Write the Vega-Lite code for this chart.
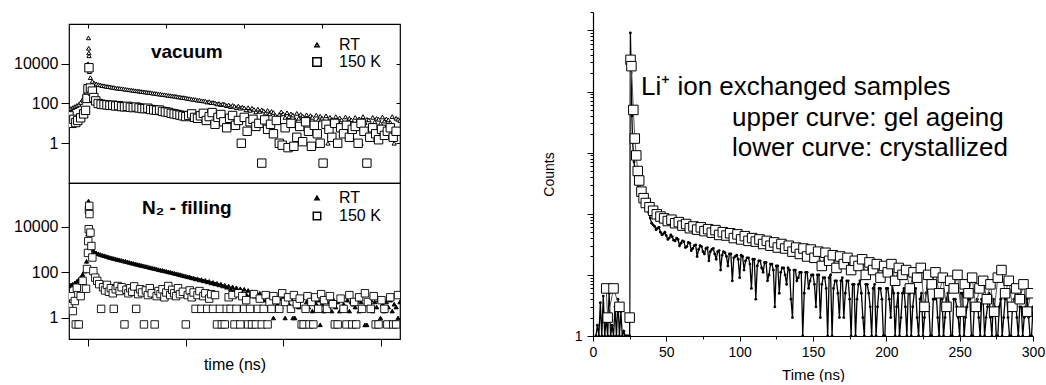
{
"$schema":"https://vega.github.io/schema/vega-lite/v6.json",
"padding":{"left":12,"top":11,"right":2,"bottom":0},
"config":{"font":"Liberation Sans","view":{"stroke":"black","strokeWidth":1.2},
"axis":{"grid":false,"domainColor":"black","tickColor":"black","labelColor":"black","titleColor":"black","titleFontWeight":"normal","labelFont":"Liberation Sans","titleFont":"Liberation Sans"},
"legend":{"labelFont":"Liberation Sans","labelColor":"black"}},
"datasets":{
"vac":[
{"t":0,"c":54,"s":"RT"},{"t":2,"c":56,"s":"RT"},{"t":4,"c":63,"s":"RT"},{"t":6,"c":70,"s":"RT"},{"t":8,"c":79,"s":"RT"},{"t":10,"c":90,"s":"RT"},{"t":12,"c":112,"s":"RT"},{"t":14,"c":160,"s":"RT"},{"t":16,"c":280,"s":"RT"},{"t":18,"c":800,"s":"RT"},{"t":19.5,"c":10000,"s":"RT"},{"t":20,"c":200000,"s":"RT"},{"t":20.2,"c":60000,"s":"RT"},{"t":20.4,"c":35000,"s":"RT"},{"t":20.6,"c":25000,"s":"RT"},{"t":21,"c":4000,"s":"RT"},
{"t":22,"c":2000,"s":"RT"},{"t":24,"c":1300,"s":"RT"},{"t":26,"c":1050,"s":"RT"},{"t":28,"c":960,"s":"RT"},{"t":30,"c":900,"s":"RT"},{"t":32,"c":860,"s":"RT"},{"t":34,"c":800,"s":"RT"},{"t":36,"c":780,"s":"RT"},{"t":38,"c":730,"s":"RT"},{"t":40,"c":710,"s":"RT"},{"t":42,"c":690,"s":"RT"},{"t":44,"c":650,"s":"RT"},{"t":46,"c":640,"s":"RT"},{"t":48,"c":600,"s":"RT"},{"t":50,"c":590,"s":"RT"},{"t":52,"c":570,"s":"RT"},{"t":54,"c":560,"s":"RT"},{"t":56,"c":540,"s":"RT"},{"t":58,"c":520,"s":"RT"},{"t":60,"c":500,"s":"RT"},{"t":62,"c":490,"s":"RT"},{"t":64,"c":470,"s":"RT"},{"t":66,"c":460,"s":"RT"},{"t":68,"c":440,"s":"RT"},{"t":70,"c":430,"s":"RT"},{"t":72,"c":420,"s":"RT"},{"t":74,"c":400,"s":"RT"},{"t":76,"c":390,"s":"RT"},{"t":78,"c":380,"s":"RT"},{"t":80,"c":370,"s":"RT"},{"t":82,"c":355,"s":"RT"},{"t":84,"c":350,"s":"RT"},{"t":86,"c":330,"s":"RT"},{"t":88,"c":325,"s":"RT"},{"t":90,"c":316,"s":"RT"},{"t":92,"c":300,"s":"RT"},{"t":94,"c":295,"s":"RT"},{"t":96,"c":280,"s":"RT"},{"t":98,"c":275,"s":"RT"},{"t":100,"c":270,"s":"RT"},{"t":102,"c":255,"s":"RT"},{"t":104,"c":250,"s":"RT"},{"t":106,"c":240,"s":"RT"},{"t":108,"c":235,"s":"RT"},{"t":110,"c":230,"s":"RT"},{"t":112,"c":215,"s":"RT"},{"t":114,"c":212,"s":"RT"},{"t":116,"c":200,"s":"RT"},{"t":118,"c":198,"s":"RT"},{"t":120,"c":190,"s":"RT"},{"t":122,"c":180,"s":"RT"},{"t":124,"c":175,"s":"RT"},{"t":126,"c":165,"s":"RT"},{"t":128,"c":162,"s":"RT"},{"t":130,"c":158,"s":"RT"},{"t":132,"c":145,"s":"RT"},{"t":134,"c":148,"s":"RT"},{"t":136,"c":138,"s":"RT"},{"t":138,"c":135,"s":"RT"},{"t":140,"c":132,"s":"RT"},{"t":142,"c":118,"s":"RT"},{"t":144,"c":125,"s":"RT"},{"t":146,"c":110,"s":"RT"},{"t":148,"c":112,"s":"RT"},{"t":150,"c":107,"s":"RT"},{"t":152,"c":95,"s":"RT"},{"t":154,"c":100,"s":"RT"},{"t":156,"c":88,"s":"RT"},{"t":158,"c":96,"s":"RT"},{"t":160,"c":89,"s":"RT"},{"t":162,"c":78,"s":"RT"},{"t":164,"c":85,"s":"RT"},{"t":166,"c":70,"s":"RT"},{"t":168,"c":80,"s":"RT"},{"t":170,"c":72,"s":"RT"},{"t":172,"c":62,"s":"RT"},{"t":174,"c":75,"s":"RT"},{"t":176,"c":58,"s":"RT"},{"t":178,"c":66,"s":"RT"},{"t":180,"c":60,"s":"RT"},{"t":182,"c":48,"s":"RT"},{"t":184,"c":62,"s":"RT"},{"t":186,"c":45,"s":"RT"},{"t":188,"c":58,"s":"RT"},{"t":190,"c":50,"s":"RT"},{"t":192,"c":38,"s":"RT"},{"t":194,"c":52,"s":"RT"},{"t":196,"c":40,"s":"RT"},{"t":198,"c":48,"s":"RT"},{"t":200,"c":42,"s":"RT"},{"t":202,"c":33,"s":"RT"},{"t":204,"c":45,"s":"RT"},{"t":206,"c":30,"s":"RT"},{"t":208,"c":40,"s":"RT"},{"t":210,"c":35,"s":"RT"},{"t":212,"c":25,"s":"RT"},{"t":214,"c":1,"s":"RT"},{"t":216,"c":28,"s":"RT"},{"t":218,"c":38,"s":"RT"},{"t":220,"c":30,"s":"RT"},{"t":222,"c":20,"s":"RT"},{"t":224,"c":34,"s":"RT"},{"t":226,"c":22,"s":"RT"},{"t":228,"c":30,"s":"RT"},{"t":230,"c":26,"s":"RT"},{"t":232,"c":16,"s":"RT"},{"t":234,"c":32,"s":"RT"},{"t":236,"c":18,"s":"RT"},{"t":238,"c":28,"s":"RT"},{"t":240,"c":23,"s":"RT"},{"t":242,"c":14,"s":"RT"},{"t":244,"c":27,"s":"RT"},{"t":246,"c":17,"s":"RT"},{"t":248,"c":25,"s":"RT"},{"t":250,"c":20,"s":"RT"},{"t":252,"c":12,"s":"RT"},{"t":254,"c":26,"s":"RT"},{"t":256,"c":15,"s":"RT"},{"t":258,"c":23,"s":"RT"},{"t":260,"c":18,"s":"RT"},{"t":262,"c":11,"s":"RT"},{"t":264,"c":24,"s":"RT"},{"t":266,"c":1,"s":"RT"},{"t":268,"c":20,"s":"RT"},{"t":270,"c":16,"s":"RT"},{"t":272,"c":10,"s":"RT"},{"t":274,"c":22,"s":"RT"},{"t":276,"c":13,"s":"RT"},{"t":278,"c":19,"s":"RT"},{"t":280,"c":15,"s":"RT"},{"t":282,"c":9,"s":"RT"},{"t":284,"c":21,"s":"RT"},{"t":286,"c":12,"s":"RT"},{"t":288,"c":18,"s":"RT"},{"t":290,"c":15,"s":"RT"},{"t":292,"c":10,"s":"RT"},{"t":294,"c":20,"s":"RT"},{"t":296,"c":12,"s":"RT"},{"t":298,"c":17,"s":"RT"},{"t":300,"c":1,"s":"RT"},{"t":302,"c":22,"s":"RT"},{"t":304,"c":11,"s":"RT"},{"t":306,"c":16,"s":"RT"},{"t":308,"c":15,"s":"RT"},{"t":310,"c":9,"s":"RT"},{"t":312,"c":20,"s":"RT"},{"t":314,"c":12,"s":"RT"},{"t":316,"c":18,"s":"RT"},{"t":318,"c":16,"s":"RT"},{"t":320,"c":10,"s":"RT"},{"t":322,"c":21,"s":"RT"},{"t":324,"c":13,"s":"RT"},{"t":326,"c":17,"s":"RT"},{"t":328,"c":15,"s":"RT"},{"t":330,"c":11,"s":"RT"},{"t":332,"c":22,"s":"RT"},{"t":334,"c":1,"s":"RT"},{"t":336,"c":18,"s":"RT"},{"t":338,"c":16,"s":"RT"},{"t":340,"c":14,"s":"RT"},
{"t":0,"c":24,"s":"150 K"},{"t":1,"c":13,"s":"150 K"},{"t":3,"c":10,"s":"150 K"},{"t":5,"c":16,"s":"150 K"},{"t":7,"c":11,"s":"150 K"},{"t":9,"c":14,"s":"150 K"},{"t":12,"c":19,"s":"150 K"},{"t":15,"c":30,"s":"150 K"},{"t":17,"c":45,"s":"150 K"},{"t":18.5,"c":180,"s":"150 K"},{"t":19.5,"c":550,"s":"150 K"},{"t":20.5,"c":6300,"s":"150 K"},{"t":22,"c":600,"s":"150 K"},{"t":24,"c":420,"s":"150 K"},{"t":25.5,"c":200,"s":"150 K"},{"t":27.5,"c":135,"s":"150 K"},{"t":30,"c":100,"s":"150 K"},{"t":33,"c":92,"s":"150 K"},{"t":36,"c":88,"s":"150 K"},{"t":39,"c":85,"s":"150 K"},{"t":42,"c":80,"s":"150 K"},{"t":45,"c":82,"s":"150 K"},{"t":48,"c":75,"s":"150 K"},{"t":51,"c":78,"s":"150 K"},{"t":54,"c":70,"s":"150 K"},{"t":57,"c":68,"s":"150 K"},{"t":60,"c":72,"s":"150 K"},{"t":63,"c":65,"s":"150 K"},{"t":66,"c":62,"s":"150 K"},{"t":69,"c":66,"s":"150 K"},{"t":72,"c":60,"s":"150 K"},{"t":75,"c":56,"s":"150 K"},{"t":78,"c":55,"s":"150 K"},{"t":81,"c":58,"s":"150 K"},{"t":84,"c":50,"s":"150 K"},{"t":87,"c":48,"s":"150 K"},{"t":90,"c":45,"s":"150 K"},{"t":93,"c":47,"s":"150 K"},{"t":96,"c":40,"s":"150 K"},{"t":99,"c":38,"s":"150 K"},{"t":102,"c":36,"s":"150 K"},{"t":105,"c":32,"s":"150 K"},{"t":108,"c":30,"s":"150 K"},{"t":111,"c":28,"s":"150 K"},{"t":114,"c":26,"s":"150 K"},{"t":117,"c":24,"s":"150 K"},{"t":120,"c":22,"s":"150 K"},{"t":123,"c":25,"s":"150 K"},{"t":126,"c":30,"s":"150 K"},{"t":129,"c":20,"s":"150 K"},{"t":132,"c":18,"s":"150 K"},{"t":135,"c":24,"s":"150 K"},{"t":138,"c":32,"s":"150 K"},{"t":141,"c":14,"s":"150 K"},{"t":144,"c":22,"s":"150 K"},{"t":147,"c":35,"s":"150 K"},{"t":150,"c":9,"s":"150 K"},{"t":153,"c":20,"s":"150 K"},{"t":156,"c":28,"s":"150 K"},{"t":159,"c":12,"s":"150 K"},{"t":162,"c":6,"s":"150 K"},{"t":165,"c":18,"s":"150 K"},{"t":168,"c":25,"s":"150 K"},{"t":171,"c":8,"s":"150 K"},{"t":174,"c":14,"s":"150 K"},{"t":177,"c":1,"s":"150 K"},{"t":180,"c":20,"s":"150 K"},{"t":183,"c":4,"s":"150 K"},{"t":186,"c":12,"s":"150 K"},{"t":189,"c":16,"s":"150 K"},{"t":192,"c":7,"s":"150 K"},{"t":195,"c":10,"s":"150 K"},{"t":198,"c":0.1,"s":"150 K"},{"t":201,"c":15,"s":"150 K"},{"t":204,"c":5,"s":"150 K"},{"t":207,"c":9,"s":"150 K"},{"t":210,"c":3,"s":"150 K"},{"t":213,"c":14,"s":"150 K"},{"t":216,"c":1,"s":"150 K"},{"t":219,"c":0.8,"s":"150 K"},{"t":222,"c":6,"s":"150 K"},{"t":225,"c":0.6,"s":"150 K"},{"t":228,"c":10,"s":"150 K"},{"t":231,"c":0.7,"s":"150 K"},{"t":234,"c":2,"s":"150 K"},{"t":237,"c":7,"s":"150 K"},{"t":240,"c":1.2,"s":"150 K"},{"t":243,"c":12,"s":"150 K"},{"t":246,"c":4,"s":"150 K"},{"t":249,"c":0.7,"s":"150 K"},{"t":252,"c":8,"s":"150 K"},{"t":255,"c":3,"s":"150 K"},{"t":258,"c":1,"s":"150 K"},{"t":261,"c":0.1,"s":"150 K"},{"t":264,"c":9,"s":"150 K"},{"t":267,"c":5,"s":"150 K"},{"t":270,"c":2,"s":"150 K"},{"t":273,"c":10,"s":"150 K"},{"t":276,"c":1,"s":"150 K"},{"t":279,"c":6,"s":"150 K"},{"t":282,"c":3,"s":"150 K"},{"t":285,"c":8,"s":"150 K"},{"t":288,"c":2,"s":"150 K"},{"t":291,"c":5,"s":"150 K"},{"t":294,"c":7,"s":"150 K"},{"t":297,"c":1,"s":"150 K"},{"t":300,"c":10,"s":"150 K"},{"t":303,"c":4,"s":"150 K"},{"t":306,"c":0.1,"s":"150 K"},{"t":309,"c":2,"s":"150 K"},{"t":312,"c":6,"s":"150 K"},{"t":315,"c":3,"s":"150 K"},{"t":318,"c":1.5,"s":"150 K"},{"t":321,"c":5,"s":"150 K"},{"t":324,"c":2.5,"s":"150 K"},{"t":327,"c":4,"s":"150 K"},{"t":330,"c":6,"s":"150 K"},{"t":333,"c":2,"s":"150 K"},{"t":336,"c":4,"s":"150 K"}
],
"n2":[
{"t":0,"c":25,"s":"RT"},{"t":2,"c":28,"s":"RT"},{"t":4,"c":30,"s":"RT"},{"t":6,"c":34,"s":"RT"},{"t":8,"c":40,"s":"RT"},{"t":10,"c":48,"s":"RT"},{"t":12,"c":58,"s":"RT"},{"t":14,"c":80,"s":"RT"},{"t":16,"c":112,"s":"RT"},{"t":18,"c":300,"s":"RT"},{"t":19.3,"c":4700,"s":"RT"},{"t":19.7,"c":9000,"s":"RT"},{"t":20,"c":130000,"s":"RT"},{"t":20.5,"c":9000,"s":"RT"},{"t":21,"c":2500,"s":"RT"},
{"t":22,"c":1300,"s":"RT"},{"t":24,"c":950,"s":"RT"},{"t":26,"c":780,"s":"RT"},{"t":28,"c":700,"s":"RT"},{"t":30,"c":640,"s":"RT"},{"t":32,"c":600,"s":"RT"},{"t":34,"c":560,"s":"RT"},{"t":36,"c":530,"s":"RT"},{"t":38,"c":500,"s":"RT"},{"t":40,"c":470,"s":"RT"},{"t":42,"c":440,"s":"RT"},{"t":44,"c":420,"s":"RT"},{"t":46,"c":400,"s":"RT"},{"t":48,"c":380,"s":"RT"},{"t":50,"c":360,"s":"RT"},{"t":52,"c":345,"s":"RT"},{"t":54,"c":330,"s":"RT"},{"t":56,"c":310,"s":"RT"},{"t":58,"c":300,"s":"RT"},{"t":60,"c":285,"s":"RT"},{"t":62,"c":270,"s":"RT"},{"t":64,"c":255,"s":"RT"},{"t":66,"c":245,"s":"RT"},{"t":68,"c":230,"s":"RT"},{"t":70,"c":222,"s":"RT"},{"t":72,"c":210,"s":"RT"},{"t":74,"c":200,"s":"RT"},{"t":76,"c":192,"s":"RT"},{"t":78,"c":182,"s":"RT"},{"t":80,"c":175,"s":"RT"},{"t":82,"c":165,"s":"RT"},{"t":84,"c":158,"s":"RT"},{"t":86,"c":150,"s":"RT"},{"t":88,"c":145,"s":"RT"},{"t":90,"c":138,"s":"RT"},{"t":92,"c":130,"s":"RT"},{"t":94,"c":125,"s":"RT"},{"t":96,"c":120,"s":"RT"},{"t":98,"c":115,"s":"RT"},{"t":100,"c":110,"s":"RT"},{"t":102,"c":104,"s":"RT"},{"t":104,"c":100,"s":"RT"},{"t":106,"c":95,"s":"RT"},{"t":108,"c":90,"s":"RT"},{"t":110,"c":86,"s":"RT"},{"t":112,"c":82,"s":"RT"},{"t":114,"c":78,"s":"RT"},{"t":116,"c":74,"s":"RT"},{"t":118,"c":70,"s":"RT"},{"t":120,"c":67,"s":"RT"},{"t":122,"c":63,"s":"RT"},{"t":124,"c":62,"s":"RT"},{"t":126,"c":57,"s":"RT"},{"t":128,"c":56,"s":"RT"},{"t":130,"c":51,"s":"RT"},{"t":132,"c":52,"s":"RT"},{"t":134,"c":46,"s":"RT"},{"t":136,"c":48,"s":"RT"},{"t":138,"c":42,"s":"RT"},{"t":140,"c":44,"s":"RT"},{"t":142,"c":38,"s":"RT"},{"t":144,"c":40,"s":"RT"},{"t":146,"c":34,"s":"RT"},{"t":148,"c":36,"s":"RT"},{"t":150,"c":31,"s":"RT"},{"t":152,"c":33,"s":"RT"},{"t":154,"c":28,"s":"RT"},{"t":156,"c":30,"s":"RT"},{"t":158,"c":25,"s":"RT"},{"t":160,"c":27,"s":"RT"},{"t":162,"c":22,"s":"RT"},{"t":164,"c":25,"s":"RT"},{"t":166,"c":19,"s":"RT"},{"t":168,"c":23,"s":"RT"},{"t":170,"c":17,"s":"RT"},{"t":172,"c":21,"s":"RT"},{"t":174,"c":15,"s":"RT"},{"t":176,"c":19,"s":"RT"},{"t":178,"c":13,"s":"RT"},{"t":180,"c":18,"s":"RT"},{"t":182,"c":11,"s":"RT"},{"t":184,"c":16,"s":"RT"},{"t":186,"c":10,"s":"RT"},{"t":188,"c":14,"s":"RT"},{"t":190,"c":9,"s":"RT"},{"t":192,"c":13,"s":"RT"},{"t":194,"c":8,"s":"RT"},{"t":196,"c":12,"s":"RT"},{"t":198,"c":7,"s":"RT"},{"t":200,"c":11,"s":"RT"},{"t":202,"c":6,"s":"RT"},{"t":204,"c":10,"s":"RT"},{"t":206,"c":5,"s":"RT"},{"t":208,"c":9,"s":"RT"},{"t":210,"c":1,"s":"RT"},{"t":212,"c":8,"s":"RT"},{"t":214,"c":4,"s":"RT"},{"t":216,"c":7,"s":"RT"},{"t":218,"c":3,"s":"RT"},{"t":220,"c":8,"s":"RT"},{"t":222,"c":1,"s":"RT"},{"t":224,"c":6,"s":"RT"},{"t":226,"c":4,"s":"RT"},{"t":228,"c":7,"s":"RT"},{"t":230,"c":1,"s":"RT"},{"t":232,"c":1,"s":"RT"},{"t":234,"c":5,"s":"RT"},{"t":236,"c":3,"s":"RT"},{"t":238,"c":6,"s":"RT"},{"t":240,"c":0.5,"s":"RT"},{"t":242,"c":0.5,"s":"RT"},{"t":244,"c":5,"s":"RT"},{"t":246,"c":3,"s":"RT"},{"t":248,"c":7,"s":"RT"},{"t":250,"c":2,"s":"RT"},{"t":252,"c":5,"s":"RT"},{"t":254,"c":4,"s":"RT"},{"t":256,"c":6,"s":"RT"},{"t":258,"c":0.5,"s":"RT"},{"t":260,"c":4,"s":"RT"},{"t":262,"c":2,"s":"RT"},{"t":264,"c":6,"s":"RT"},{"t":266,"c":3,"s":"RT"},{"t":268,"c":5,"s":"RT"},{"t":270,"c":2,"s":"RT"},{"t":272,"c":6,"s":"RT"},{"t":274,"c":3,"s":"RT"},{"t":276,"c":5,"s":"RT"},{"t":278,"c":2,"s":"RT"},{"t":280,"c":7,"s":"RT"},{"t":282,"c":4,"s":"RT"},{"t":284,"c":3,"s":"RT"},{"t":286,"c":6,"s":"RT"},{"t":288,"c":2,"s":"RT"},{"t":290,"c":5,"s":"RT"},{"t":292,"c":4,"s":"RT"},{"t":294,"c":3,"s":"RT"},{"t":296,"c":6,"s":"RT"},{"t":298,"c":2,"s":"RT"},{"t":300,"c":5,"s":"RT"},{"t":302,"c":3,"s":"RT"},{"t":304,"c":0.5,"s":"RT"},{"t":306,"c":0.5,"s":"RT"},{"t":308,"c":4,"s":"RT"},{"t":310,"c":6,"s":"RT"},{"t":312,"c":2,"s":"RT"},{"t":314,"c":5,"s":"RT"},{"t":316,"c":3,"s":"RT"},{"t":318,"c":6,"s":"RT"},{"t":320,"c":1,"s":"RT"},{"t":322,"c":4,"s":"RT"},{"t":324,"c":2,"s":"RT"},{"t":326,"c":5,"s":"RT"},{"t":328,"c":3,"s":"RT"},{"t":330,"c":6,"s":"RT"},{"t":332,"c":2,"s":"RT"},{"t":334,"c":4,"s":"RT"},{"t":336,"c":3,"s":"RT"},{"t":338,"c":1,"s":"RT"},{"t":340,"c":5,"s":"RT"},
{"t":0,"c":3.3,"s":"150 K"},{"t":2,"c":9,"s":"150 K"},{"t":4,"c":2,"s":"150 K"},{"t":6,"c":5.5,"s":"150 K"},{"t":7,"c":0.52,"s":"150 K"},{"t":8,"c":21,"s":"150 K"},{"t":10,"c":0.52,"s":"150 K"},{"t":12,"c":9,"s":"150 K"},{"t":14,"c":42,"s":"150 K"},{"t":17.5,"c":19,"s":"150 K"},{"t":18.5,"c":138,"s":"150 K"},{"t":19.5,"c":700,"s":"150 K"},{"t":19.8,"c":2300,"s":"150 K"},{"t":20.3,"c":7600,"s":"150 K"},{"t":20.5,"c":52000,"s":"150 K"},{"t":20.8,"c":80000,"s":"150 K"},{"t":21,"c":35000,"s":"150 K"},{"t":22,"c":5400,"s":"150 K"},{"t":23,"c":1400,"s":"150 K"},{"t":24,"c":440,"s":"150 K"},{"t":25,"c":112,"s":"150 K"},{"t":27,"c":58,"s":"150 K"},{"t":29,"c":42,"s":"150 K"},{"t":31,"c":30,"s":"150 K"},{"t":33,"c":2.5,"s":"150 K"},{"t":35,"c":22,"s":"150 K"},{"t":37,"c":16,"s":"150 K"},{"t":39,"c":28,"s":"150 K"},{"t":41,"c":14,"s":"150 K"},{"t":43,"c":20,"s":"150 K"},{"t":45,"c":12,"s":"150 K"},{"t":46,"c":2.5,"s":"150 K"},{"t":48,"c":18,"s":"150 K"},{"t":50,"c":25,"s":"150 K"},{"t":52,"c":15,"s":"150 K"},{"t":54,"c":22,"s":"150 K"},{"t":57,"c":0.52,"s":"150 K"},{"t":59,"c":17,"s":"150 K"},{"t":61,"c":12,"s":"150 K"},{"t":63,"c":20,"s":"150 K"},{"t":65,"c":14,"s":"150 K"},{"t":67,"c":24,"s":"150 K"},{"t":69,"c":2.5,"s":"150 K"},{"t":71,"c":11,"s":"150 K"},{"t":73,"c":18,"s":"150 K"},{"t":75,"c":13,"s":"150 K"},{"t":77,"c":0.52,"s":"150 K"},{"t":79,"c":16,"s":"150 K"},{"t":81,"c":10,"s":"150 K"},{"t":83,"c":20,"s":"150 K"},{"t":85,"c":12,"s":"150 K"},{"t":88,"c":0.52,"s":"150 K"},{"t":90,"c":9,"s":"150 K"},{"t":92,"c":15,"s":"150 K"},{"t":94,"c":11,"s":"150 K"},{"t":96,"c":18,"s":"150 K"},{"t":98,"c":8,"s":"150 K"},{"t":100,"c":13,"s":"150 K"},{"t":102,"c":25,"s":"150 K"},{"t":104,"c":10,"s":"150 K"},{"t":106,"c":17,"s":"150 K"},{"t":108,"c":12,"s":"150 K"},{"t":110,"c":9,"s":"150 K"},{"t":112,"c":20,"s":"150 K"},{"t":114,"c":11,"s":"150 K"},{"t":117,"c":14,"s":"150 K"},{"t":120,"c":0.52,"s":"150 K"},{"t":122,"c":10,"s":"150 K"},{"t":124,"c":16,"s":"150 K"},{"t":126,"c":8,"s":"150 K"},{"t":128,"c":13,"s":"150 K"},{"t":130,"c":2.5,"s":"150 K"},{"t":132,"c":10,"s":"150 K"},{"t":134,"c":15,"s":"150 K"},{"t":136,"c":2.5,"s":"150 K"},{"t":138,"c":9,"s":"150 K"},{"t":140,"c":12,"s":"150 K"},{"t":142,"c":2.5,"s":"150 K"},{"t":144,"c":7,"s":"150 K"},{"t":146,"c":11,"s":"150 K"},{"t":148,"c":2.5,"s":"150 K"},{"t":150,"c":10,"s":"150 K"},{"t":152,"c":0.52,"s":"150 K"},{"t":155,"c":2.5,"s":"150 K"},{"t":157,"c":0.52,"s":"150 K"},{"t":160,"c":0.52,"s":"150 K"},{"t":162,"c":2.5,"s":"150 K"},{"t":164,"c":8,"s":"150 K"},{"t":166,"c":2.5,"s":"150 K"},{"t":168,"c":10,"s":"150 K"},{"t":170,"c":0.52,"s":"150 K"},{"t":172,"c":2.5,"s":"150 K"},{"t":174,"c":12,"s":"150 K"},{"t":176,"c":0.52,"s":"150 K"},{"t":178,"c":9,"s":"150 K"},{"t":180,"c":2.5,"s":"150 K"},{"t":182,"c":6,"s":"150 K"},{"t":184,"c":0.52,"s":"150 K"},{"t":186,"c":2.5,"s":"150 K"},{"t":188,"c":0.52,"s":"150 K"},{"t":190,"c":11,"s":"150 K"},{"t":192,"c":0.52,"s":"150 K"},{"t":194,"c":2.5,"s":"150 K"},{"t":196,"c":7,"s":"150 K"},{"t":198,"c":0.52,"s":"150 K"},{"t":200,"c":2.5,"s":"150 K"},{"t":202,"c":10,"s":"150 K"},{"t":204,"c":0.52,"s":"150 K"},{"t":206,"c":5,"s":"150 K"},{"t":208,"c":2.5,"s":"150 K"},{"t":210,"c":9,"s":"150 K"},{"t":213,"c":6,"s":"150 K"},{"t":216,"c":2.5,"s":"150 K"},{"t":219,"c":12,"s":"150 K"},{"t":222,"c":5,"s":"150 K"},{"t":225,"c":8,"s":"150 K"},{"t":228,"c":2.5,"s":"150 K"},{"t":231,"c":10,"s":"150 K"},{"t":234,"c":4,"s":"150 K"},{"t":237,"c":7,"s":"150 K"},{"t":239,"c":0.52,"s":"150 K"},{"t":241,"c":0.52,"s":"150 K"},{"t":243,"c":2.5,"s":"150 K"},{"t":245,"c":9,"s":"150 K"},{"t":247,"c":0.52,"s":"150 K"},{"t":249,"c":5,"s":"150 K"},{"t":251,"c":0.52,"s":"150 K"},{"t":253,"c":8,"s":"150 K"},{"t":256,"c":2.5,"s":"150 K"},{"t":259,"c":11,"s":"150 K"},{"t":262,"c":6,"s":"150 K"},{"t":265,"c":2.5,"s":"150 K"},{"t":268,"c":9,"s":"150 K"},{"t":271,"c":4,"s":"150 K"},{"t":273,"c":0.52,"s":"150 K"},{"t":276,"c":0.52,"s":"150 K"},{"t":279,"c":7,"s":"150 K"},{"t":282,"c":2.5,"s":"150 K"},{"t":285,"c":0.52,"s":"150 K"},{"t":288,"c":10,"s":"150 K"},{"t":291,"c":0.52,"s":"150 K"},{"t":293,"c":5,"s":"150 K"},{"t":295,"c":0.52,"s":"150 K"},{"t":298,"c":8,"s":"150 K"},{"t":301,"c":2.5,"s":"150 K"},{"t":304,"c":12,"s":"150 K"},{"t":307,"c":5,"s":"150 K"},{"t":310,"c":2.5,"s":"150 K"},{"t":313,"c":9,"s":"150 K"},{"t":315,"c":0.52,"s":"150 K"},{"t":318,"c":0.52,"s":"150 K"},{"t":321,"c":6,"s":"150 K"},{"t":324,"c":2.5,"s":"150 K"},{"t":327,"c":0.52,"s":"150 K"},{"t":330,"c":8,"s":"150 K"},{"t":333,"c":0.52,"s":"150 K"},{"t":336,"c":0.52,"s":"150 K"},{"t":338,"c":10,"s":"150 K"}
],
"gel":[
{"t":9,"c":6},{"t":10,"c":2},{"t":14,"c":6},{"t":18,"c":3},{"t":25,"c":2},{"t":25.6,"c":33000},{"t":26.2,"c":26000},{"t":27.5,"c":5000},{"t":28.5,"c":1700},{"t":29.5,"c":900},{"t":30.5,"c":500},{"t":31.5,"c":350},{"t":33,"c":230},{"t":34.5,"c":180},{"t":36,"c":150},{"t":38.5,"c":128},{"t":41,"c":112},{"t":43.5,"c":98},{"t":46,"c":90},{"t":48.5,"c":84},{"t":51,"c":76},{"t":53.5,"c":80},{"t":56,"c":70},{"t":58.5,"c":73},{"t":61,"c":64},{"t":63.5,"c":68},{"t":66,"c":58},{"t":68.5,"c":62},{"t":71,"c":55},{"t":73.5,"c":60},{"t":76,"c":52},{"t":78.5,"c":56},{"t":81,"c":49},{"t":83.5,"c":54},{"t":86,"c":45},{"t":88.5,"c":50},{"t":91,"c":44},{"t":93.5,"c":48},{"t":96,"c":40},{"t":98.5,"c":46},{"t":101,"c":38},{"t":103.5,"c":43},{"t":106,"c":36},{"t":108.5,"c":40},{"t":111,"c":35},{"t":113.5,"c":38},{"t":116,"c":32},{"t":118.5,"c":36},{"t":121,"c":30},{"t":123.5,"c":34},{"t":126,"c":28},{"t":128.5,"c":32},{"t":131,"c":27},{"t":133.5,"c":30},{"t":136,"c":24},{"t":138.5,"c":28},{"t":141,"c":22},{"t":143.5,"c":27},{"t":146,"c":20},{"t":148.5,"c":26},{"t":151,"c":19},{"t":153.5,"c":24},{"t":156,"c":14},{"t":158.5,"c":23},{"t":161,"c":17},{"t":163.5,"c":21},{"t":166,"c":13},{"t":168.5,"c":20},{"t":171,"c":15},{"t":173.5,"c":19},{"t":176,"c":12},{"t":178.5,"c":17},{"t":181,"c":14},{"t":183.5,"c":18},{"t":186,"c":10},{"t":188.5,"c":16},{"t":191,"c":12},{"t":193.5,"c":15},{"t":196,"c":9},{"t":198.5,"c":14},{"t":201,"c":11},{"t":203.5,"c":15},{"t":206,"c":8},{"t":208.5,"c":13},{"t":211,"c":10},{"t":213.5,"c":12},{"t":216,"c":6},{"t":218.5,"c":11},{"t":221,"c":9},{"t":223.5,"c":13},{"t":226,"c":3},{"t":228.5,"c":10},{"t":231,"c":7},{"t":233.5,"c":11},{"t":236,"c":5},{"t":238.5,"c":9},{"t":241,"c":3},{"t":243.5,"c":8},{"t":246,"c":6},{"t":248.5,"c":10},{"t":251,"c":2.5},{"t":253.5,"c":7},{"t":256,"c":5},{"t":258.5,"c":9},{"t":261,"c":3},{"t":263.5,"c":6},{"t":266,"c":8},{"t":268.5,"c":4},{"t":271,"c":7},{"t":273.5,"c":2.5},{"t":276,"c":9},{"t":278.5,"c":12},{"t":281,"c":5},{"t":283.5,"c":8},{"t":286,"c":3},{"t":288.5,"c":6},{"t":291,"c":4},{"t":293.5,"c":7},{"t":296,"c":2.5},{"t":298.5,"c":5}
],
"cry":[
{"t":2,"c":1},{"t":3,"c":1.5},{"t":4,"c":1},{"t":5,"c":3.5},{"t":6,"c":1},{"t":7,"c":4.5},{"t":8,"c":1},{"t":9,"c":2},{"t":10,"c":1},{"t":11,"c":5},{"t":12,"c":1},{"t":13,"c":1.5},{"t":14,"c":1},{"t":15,"c":3},{"t":16,"c":1},{"t":17,"c":4},{"t":18,"c":1},{"t":19,"c":2.5},{"t":20,"c":1},{"t":21,"c":1.2},{"t":22,"c":1},{"t":23,"c":1},{"t":24,"c":1},{"t":25,"c":1},{"t":25.5,"c":91000},{"t":26,"c":20000},{"t":26.5,"c":4000},{"t":27,"c":1500},{"t":28,"c":700},{"t":29,"c":450},{"t":30,"c":330},{"t":31,"c":270},{"t":32,"c":230},{"t":33,"c":200},{"t":34,"c":175},{"t":35,"c":155},
{"t":36,"c":140},{"t":38,"c":105},{"t":40,"c":70},{"t":42,"c":62},{"t":44,"c":58},{"t":46,"c":50},{"t":48,"c":47},{"t":50,"c":44},{"t":52,"c":40},{"t":54,"c":42},{"t":56,"c":36},{"t":58,"c":38},{"t":60,"c":33},{"t":62,"c":35},{"t":64,"c":29},{"t":66,"c":33},{"t":68,"c":27},{"t":70,"c":31},{"t":72,"c":26},{"t":74,"c":29},{"t":76,"c":22},{"t":78,"c":28},{"t":80,"c":24},{"t":82,"c":27},{"t":84,"c":18},{"t":86,"c":25},{"t":88,"c":21},{"t":90,"c":23},{"t":92,"c":14},{"t":94,"c":22},{"t":96,"c":19},{"t":98,"c":21},{"t":100,"c":9},{"t":102,"c":20},{"t":104,"c":17},{"t":106,"c":19},{"t":108,"c":6},{"t":110,"c":18},{"t":112,"c":14},{"t":114,"c":17},{"t":116,"c":11},{"t":118,"c":16},{"t":120,"c":10},{"t":122,"c":15},{"t":124,"c":3},{"t":126,"c":14},{"t":128,"c":11},{"t":130,"c":13},{"t":132,"c":7},{"t":134,"c":12},{"t":136,"c":2},{"t":138,"c":12},{"t":140,"c":9},{"t":142,"c":11},{"t":144,"c":5},{"t":146,"c":11},{"t":148,"c":8},{"t":150,"c":10},{"t":152,"c":3},{"t":154,"c":10},{"t":156,"c":7},{"t":158,"c":9},{"t":160,"c":1},{"t":162,"c":10},{"t":164,"c":6},{"t":166,"c":8},{"t":168,"c":2},{"t":170,"c":9},{"t":172,"c":5},{"t":174,"c":8},{"t":176,"c":1},{"t":178,"c":7},{"t":180,"c":4},{"t":182,"c":8},{"t":184,"c":2},{"t":186,"c":7},{"t":188,"c":5},{"t":190,"c":1},{"t":192,"c":7},{"t":194,"c":3},{"t":196,"c":6},{"t":198,"c":1},{"t":200,"c":6},{"t":202,"c":4},{"t":204,"c":7},{"t":206,"c":1},{"t":208,"c":5},{"t":210,"c":2},{"t":212,"c":6},{"t":214,"c":1},{"t":216,"c":5},{"t":218,"c":3},{"t":220,"c":6},{"t":222,"c":1},{"t":224,"c":5},{"t":226,"c":2},{"t":228,"c":6},{"t":230,"c":1},{"t":232,"c":4},{"t":234,"c":5},{"t":236,"c":1},{"t":238,"c":4},{"t":240,"c":2},{"t":242,"c":5},{"t":244,"c":1},{"t":246,"c":4},{"t":248,"c":3},{"t":250,"c":1},{"t":252,"c":5},{"t":254,"c":2},{"t":256,"c":4},{"t":258,"c":1},{"t":260,"c":3},{"t":262,"c":4},{"t":264,"c":1},{"t":266,"c":4},{"t":268,"c":2},{"t":270,"c":5},{"t":272,"c":1},{"t":274,"c":3},{"t":276,"c":1},{"t":278,"c":4},{"t":280,"c":2},{"t":282,"c":5},{"t":284,"c":1},{"t":286,"c":3},{"t":288,"c":4},{"t":290,"c":1},{"t":292,"c":3},{"t":294,"c":2},{"t":296,"c":4},{"t":298,"c":1},{"t":300,"c":3},
{"t":37,"c":120},{"t":39,"c":85},{"t":41,"c":66},{"t":43,"c":55},{"t":45,"c":60},{"t":47,"c":45},{"t":49,"c":50},{"t":51,"c":38},{"t":53,"c":45},{"t":55,"c":37},{"t":57,"c":40},{"t":59,"c":30},{"t":61,"c":36},{"t":63,"c":28},{"t":65,"c":34},{"t":67,"c":25},{"t":69,"c":30},{"t":71,"c":20},{"t":73,"c":30},{"t":75,"c":24},{"t":77,"c":27},{"t":79,"c":17},{"t":81,"c":26},{"t":83,"c":22},{"t":85,"c":24},{"t":87,"c":12},{"t":89,"c":24},{"t":91,"c":20},{"t":93,"c":22},{"t":95,"c":8},{"t":97,"c":20},{"t":99,"c":18},{"t":101,"c":21},{"t":103,"c":12},{"t":105,"c":19},{"t":107,"c":15},{"t":109,"c":18},{"t":111,"c":4},{"t":113,"c":17},{"t":115,"c":13},{"t":117,"c":16},{"t":119,"c":8},{"t":121,"c":15},{"t":123,"c":12},{"t":125,"c":14},{"t":127,"c":5},{"t":129,"c":13},{"t":131,"c":10},{"t":133,"c":13},{"t":135,"c":4},{"t":137,"c":12},{"t":139,"c":8},{"t":141,"c":11},{"t":143,"c":1},{"t":145,"c":11},{"t":147,"c":6},{"t":149,"c":10},{"t":151,"c":7},{"t":153,"c":10},{"t":155,"c":2},{"t":157,"c":9},{"t":159,"c":6},{"t":161,"c":9},{"t":163,"c":1},{"t":165,"c":8},{"t":167,"c":5},{"t":169,"c":8},{"t":171,"c":2},{"t":173,"c":8},{"t":175,"c":4},{"t":177,"c":7},{"t":179,"c":1},{"t":181,"c":7},{"t":183,"c":5},{"t":185,"c":1},{"t":187,"c":7},{"t":189,"c":3},{"t":191,"c":6},{"t":193,"c":1},{"t":195,"c":6},{"t":197,"c":4},{"t":199,"c":1},{"t":201,"c":6},{"t":203,"c":2},{"t":205,"c":5},{"t":207,"c":3},{"t":209,"c":1},{"t":211,"c":5},{"t":213,"c":3},{"t":215,"c":6},{"t":217,"c":1},{"t":219,"c":5},{"t":221,"c":2},{"t":223,"c":4},{"t":225,"c":1},{"t":227,"c":5},{"t":229,"c":3},{"t":231,"c":1},{"t":233,"c":4},{"t":235,"c":2},{"t":237,"c":5},{"t":239,"c":1},{"t":241,"c":4},{"t":243,"c":3},{"t":245,"c":1},{"t":247,"c":4},{"t":249,"c":2},{"t":251,"c":5},{"t":253,"c":1},{"t":255,"c":3},{"t":257,"c":4},{"t":259,"c":1},{"t":261,"c":3},{"t":263,"c":2},{"t":265,"c":4},{"t":267,"c":1},{"t":269,"c":3},{"t":271,"c":2},{"t":273,"c":4},{"t":275,"c":1},{"t":277,"c":3},{"t":279,"c":1},{"t":281,"c":4},{"t":283,"c":2},{"t":285,"c":1},{"t":287,"c":4},{"t":289,"c":2},{"t":291,"c":3},{"t":293,"c":1},{"t":295,"c":3},{"t":297,"c":2},{"t":299,"c":1}
]
},
"hconcat":[
{
"vconcat":[
{"width":331,"height":12,"view":{"stroke":"transparent"},"data":{"values":[{}]},"mark":{"type":"text","text":""},"encoding":{}},
{"width":331,"height":159,"data":{"name":"vac"},
"layer":[
{"mark":{"type":"point","filled":true,"opacity":1,"stroke":"black","strokeWidth":1,"clip":true},
"encoding":{
"x":{"field":"t","type":"quantitative","scale":{"domain":[0,340],"nice":false,"zero":false},"axis":null},
"y":{"field":"c","type":"quantitative","scale":{"type":"log","domain":[0.01,1000000],"nice":false},"axis":{"orient":"left","values":[1,100,10000],"format":"d","title":null,"domain":false,"tickSize":8,"labelPadding":3,"labelFontSize":16}},
"shape":{"field":"s","type":"nominal","scale":{"domain":["RT","150 K"],"range":["triangle-up","square"]},"legend":{"title":null,"orient":"none","legendX":240,"legendY":13,"labelFontSize":16,"labelOffset":14,"rowPadding":1,"encode":{"symbols":{"update":{"stroke":{"value":"black"},"strokeWidth":{"value":0.9}}}}}},
"size":{"field":"s","type":"nominal","scale":{"domain":["RT","150 K"],"range":[18,70]},"legend":{"title":null,"orient":"none","legendX":240,"legendY":13,"labelFontSize":16,"labelOffset":14,"rowPadding":1,"encode":{"symbols":{"update":{"stroke":{"value":"black"},"strokeWidth":{"value":0.9}}}}}},
"fill":{"field":"s","type":"nominal","scale":{"domain":["RT","150 K"],"range":["white","white"]},"legend":{"title":null,"orient":"none","legendX":240,"legendY":13,"labelFontSize":16,"labelOffset":14,"rowPadding":1,"encode":{"symbols":{"update":{"stroke":{"value":"black"},"strokeWidth":{"value":0.9}}}}}}
}},
{"data":{"values":[{}]},"mark":{"type":"text","text":"vacuum","fontWeight":"bold","fontSize":19,"align":"center","baseline":"middle"},
"encoding":{
"x":{"datum":121,"type":"quantitative","axis":{"orient":"top","values":[20,100,180,260],"labels":false,"title":null,"domain":false,"tickSize":-4}},
"y":{"datum":39000,"type":"quantitative","axis":{"orient":"right","values":[1,100,10000],"labels":false,"title":null,"domain":false,"tickSize":-4}}
}}
],
"resolve":{"axis":{"x":"independent","y":"independent"}}
},
{"width":331,"height":156,"data":{"name":"n2"},
"layer":[
{"mark":{"type":"point","filled":true,"opacity":1,"stroke":"black","strokeWidth":0.9,"clip":true},
"encoding":{
"x":{"field":"t","type":"quantitative","scale":{"domain":[0,340],"nice":false,"zero":false},"axis":{"orient":"bottom","values":[20,120,220,320],"labels":false,"domain":false,"tickSize":7,"title":"time (ns)","titleFontSize":16,"titlePadding":10}},
"y":{"field":"c","type":"quantitative","scale":{"type":"log","domain":[0.12,800000],"nice":false},"axis":{"orient":"left","values":[1,100,10000],"format":"d","title":null,"domain":false,"tickSize":8,"labelPadding":3,"labelFontSize":16}},
"shape":{"field":"s","type":"nominal","scale":{"domain":["RT","150 K"],"range":["triangle-up","square"]},"legend":{"title":null,"orient":"none","legendX":240,"legendY":7,"labelFontSize":16,"labelOffset":14,"rowPadding":2,"encode":{"symbols":{"update":{"stroke":{"value":"black"},"strokeWidth":{"value":0.9}}}}}},
"size":{"field":"s","type":"nominal","scale":{"domain":["RT","150 K"],"range":[18,55]},"legend":{"title":null,"orient":"none","legendX":240,"legendY":7,"labelFontSize":16,"labelOffset":14,"rowPadding":2,"encode":{"symbols":{"update":{"stroke":{"value":"black"},"strokeWidth":{"value":0.9}}}}}},
"fill":{"field":"s","type":"nominal","scale":{"domain":["RT","150 K"],"range":["black","white"]},"legend":{"title":null,"orient":"none","legendX":240,"legendY":7,"labelFontSize":16,"labelOffset":14,"rowPadding":2,"encode":{"symbols":{"update":{"stroke":{"value":"black"},"strokeWidth":{"value":0.9}}}}}}
}},
{"data":{"values":[{}]},"mark":{"type":"text","text":"N₂ - filling","fontWeight":"bold","fontSize":19,"align":"center","baseline":"middle"},
"encoding":{
"x":{"datum":121,"type":"quantitative","axis":null},
"y":{"datum":64000,"type":"quantitative","axis":null}
}}
],
"resolve":{"axis":{"x":"independent","y":"independent"}}
}
],
"spacing":0,
"bounds":"flush",
"resolve":{"scale":{"x":"independent","y":"independent","shape":"independent","size":"independent","fill":"independent"},"legend":{"shape":"independent","size":"independent","fill":"independent"}}
},
{"width":440,"height":324,"view":{"stroke":null},
"layer":[
{"data":{"name":"cry"},"mark":{"type":"line","stroke":"black","strokeWidth":1.3,"clip":true},
"encoding":{
"x":{"field":"t","type":"quantitative","scale":{"domain":[0,300],"nice":false,"zero":false},"axis":{"orient":"bottom","values":[0,50,100,150,200,250,300],"title":"Time (ns)","titleFontSize":15,"titlePadding":8,"labelFontSize":14,"labelPadding":4,"tickSize":5,"domainWidth":1.2,"labelFlush":false}},
"y":{"field":"c","type":"quantitative","scale":{"type":"log","domain":[1,200000],"nice":false},"axis":{"orient":"left","values":[1,10,100,1000,10000,100000],"labelExpr":"datum.value == 1 ? '1' : ''","title":"Counts","titleFontSize":14,"titlePadding":18,"labelFontSize":14,"labelPadding":5,"tickSize":6,"domainWidth":1.2}}
}},
{"data":{"name":"cry"},"mark":{"type":"point","shape":"circle","filled":true,"fill":"black","size":8,"opacity":1,"clip":true},
"encoding":{"x":{"field":"t","type":"quantitative","axis":null},"y":{"field":"c","type":"quantitative","axis":null}}},
{"data":{"name":"gel"},"mark":{"type":"line","stroke":"#555555","strokeWidth":1,"clip":true},
"encoding":{"x":{"field":"t","type":"quantitative","axis":null},"y":{"field":"c","type":"quantitative","axis":null}}},
{"data":{"name":"gel"},"mark":{"type":"point","shape":"square","filled":true,"fill":"white","stroke":"black","strokeWidth":1,"size":90,"opacity":1,"clip":true},
"encoding":{"x":{"field":"t","type":"quantitative","axis":null},"y":{"field":"c","type":"quantitative","axis":null}}},
{"data":{"values":[{}]},"mark":{"type":"text","text":"Li⁺ ion exchanged samples","fontSize":26,"align":"left","baseline":"alphabetic"},
"encoding":{
"x":{"datum":32.7,"type":"quantitative","axis":{"orient":"bottom","values":[25,75,125,175,225,275],"labels":false,"title":null,"domain":false,"tickSize":3}},
"y":{"datum":8790,"type":"quantitative","axis":{"orient":"left","values":[2,3,4,5,6,7,8,9,20,30,40,50,60,70,80,90,200,300,400,500,600,700,800,900,2000,3000,4000,5000,6000,7000,8000,9000,20000,30000,40000,50000,60000,70000,80000,90000,200000],"labels":false,"title":null,"domain":false,"tickSize":3}}
}},
{"data":{"values":[{}]},"mark":{"type":"text","text":"upper curve: gel ageing","fontSize":26,"align":"left","baseline":"alphabetic"},
"encoding":{"x":{"datum":94.8,"type":"quantitative","axis":null},"y":{"datum":2735,"type":"quantitative","axis":null}}},
{"data":{"values":[{}]},"mark":{"type":"text","text":"lower curve: crystallized","fontSize":26,"align":"left","baseline":"alphabetic"},
"encoding":{"x":{"datum":94.8,"type":"quantitative","axis":null},"y":{"datum":883,"type":"quantitative","axis":null}}}
],
"resolve":{"axis":{"x":"independent","y":"independent"}}
}
],
"spacing":140,
"resolve":{"scale":{"x":"independent","y":"independent","shape":"independent","size":"independent","fill":"independent"},"legend":{"shape":"independent","size":"independent","fill":"independent"}}
}
